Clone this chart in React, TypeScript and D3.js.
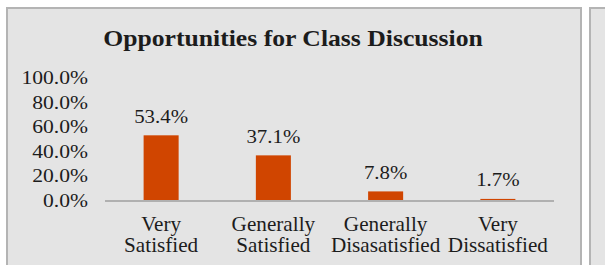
import React from "react";
import * as d3 from "d3";

const title = "Opportunities for Class Discussion";
const categories: string[][] = [
  ["Very", "Satisfied"],
  ["Generally", "Satisfied"],
  ["Generally", "Disasatisfied"],
  ["Very", "Dissatisfied"],
];
const values = [53.4, 37.1, 7.8, 1.7];
const yTicks = [0, 20, 40, 60, 80, 100];

const W = 605;
const H = 265;
const FONT = "'Liberation Serif', 'Times New Roman', serif";

function SText(props: {
  x: number;
  y: number;
  sx: number;
  size: number;
  anchor: string;
  bold?: boolean;
  children: React.ReactNode;
}) {
  return (
    <text
      transform={`translate(${props.x},${props.y}) scale(${props.sx},1)`}
      textAnchor={props.anchor}
      fontSize={props.size}
      fontWeight={props.bold ? "bold" : "normal"}
      fill="#1c1c1c"
    >
      {props.children}
    </text>
  );
}

export default function App() {
  const x = d3
    .scaleBand<number>()
    .domain(d3.range(values.length))
    .range([105, 554])
    .paddingInner(0.688)
    .paddingOuter(0.344);
  const y = d3.scaleLinear().domain([0, 100]).range([201, 78]);
  const fmt = (v: number) => v.toFixed(1) + "%";

  return (
    <svg
      width={W}
      height={H}
      style={{ position: "absolute", left: 0, top: 0, background: "#fff" }}
      fontFamily={FONT}
    >
      <rect x={7} y={8} width={574} height={270} fill="#e4e4e4" stroke="#b4b4b4" strokeWidth={2} />
      <rect x={590} y={8} width={30} height={270} fill="#e4e4e4" stroke="#b4b4b4" strokeWidth={2} />
      <SText x={293} y={46} sx={1.07} size={24} anchor="middle" bold>
        {title}
      </SText>
      {yTicks.map((t) => (
        <SText key={t} x={88} y={y(t) + 6} sx={1.2} size={18} anchor="end">
          {fmt(t)}
        </SText>
      ))}
      {values.map((v, i) => {
        const cx = (x(i) as number) + x.bandwidth() / 2;
        return (
          <g key={i}>
            <rect x={x(i)} y={y(v)} width={x.bandwidth()} height={y(0) - y(v)} fill="#d04500" />
            <SText x={cx} y={y(v) - 12.5} sx={1.16} size={18} anchor="middle">
              {fmt(v)}
            </SText>
            {categories[i].map((line, j) => (
              <SText key={j} x={cx} y={231 + j * 20.5} sx={1.06} size={20} anchor="middle">
                {line}
              </SText>
            ))}
          </g>
        );
      })}
      <line x1={105} x2={554} y1={y(0)} y2={y(0)} stroke="#b0b0b0" strokeWidth={2} />
    </svg>
  );
}
